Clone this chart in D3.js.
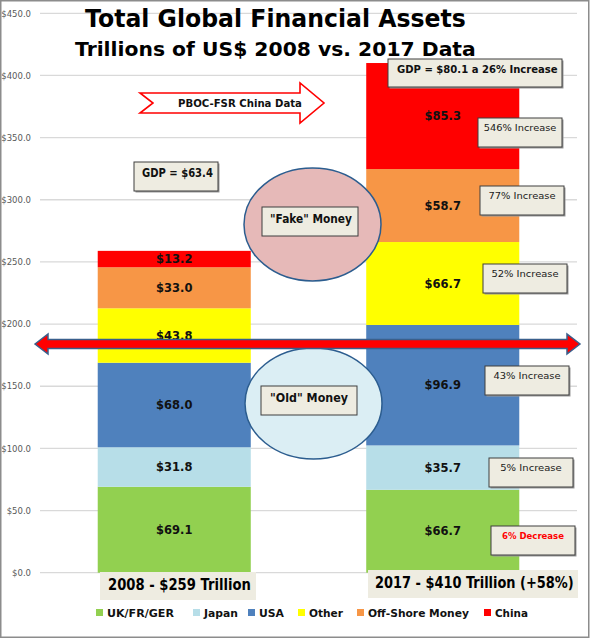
<!DOCTYPE html>
<html>
<head>
<meta charset="utf-8">
<script src="https://cdn.jsdelivr.net/npm/d3@7"></script>
<style>
  html, body { margin: 0; padding: 0; background: #fff; }
  svg { display: block; }
</style>
</head>
<body>
<div id="chart"></div>
<script>
// ---------------- DATA ----------------
const categories = ["2008", "2017"];
const categoryLabels = ["2008 - $259 Trillion", "2017 - $410 Trillion (+58%)"];
const seriesNames = ["UK/FR/GER", "Japan", "USA", "Other", "Off-Shore Money", "China"];
const values2008 = [69.1, 31.8, 68.0, 43.8, 33.0, 13.2];
const values2017 = [66.7, 35.7, 96.9, 66.7, 58.7, 85.3];
const seriesColors = ["#92D050", "#B7DEE8", "#4F81BD", "#FFFF00", "#F79646", "#FF0000"];
const yTicks = [0, 50, 100, 150, 200, 250, 300, 350, 400, 450];
const changeNotes = ["6% Decrease", "5% Increase", "43% Increase", "52% Increase", "77% Increase", "546% Increase"];
const titleLines = ["Total Global Financial Assets", "Trillions of US$ 2008 vs. 2017 Data"];
const gdpNotes = ["GDP = $63.4", "GDP = $80.1 a 26% Increase"];

// ---------------- SETUP ----------------
const W = 591, H = 640;
const FONT = "'DejaVu Sans', Verdana, sans-serif";
const svg = d3.select("#chart").append("svg").attr("width", W).attr("height", H);

const plot = { left: 40, right: 577, top: 13.3, bottom: 572.7 };
const x = d3.scaleBand().domain(categories).range([plot.left, plot.right])
  .paddingInner(0.43).paddingOuter(0.215);
const y = d3.scaleLinear().domain([0, 450]).range([plot.bottom, plot.top]);

// frame
svg.append("rect").attr("x", 0.75).attr("y", 0.75).attr("width", 588).attr("height", 636.5)
  .attr("fill", "#fff").attr("stroke", "#8c8c8c").attr("stroke-width", 1.5);

// gridlines
svg.append("g").selectAll("line").data(yTicks).join("line")
  .attr("x1", plot.left).attr("x2", plot.right)
  .attr("y1", d => y(d)).attr("y2", d => y(d))
  .attr("stroke", "#d9d9d9").attr("stroke-width", 1.3);

// y axis labels
const yAxis = d3.axisLeft(y).tickValues(yTicks).tickSize(0).tickPadding(0)
  .tickFormat(d => "$" + d3.format(".1f")(d));
const gy = svg.append("g").attr("transform", `translate(31,0)`).call(yAxis);
gy.select(".domain").remove();
gy.selectAll("text").attr("font-family", FONT).attr("font-size", 8.5).attr("fill", "#595959");

// ---------------- BARS ----------------
const rows = categories.map((c, i) => {
  const obj = { cat: c };
  const vals = i === 0 ? values2008 : values2017;
  seriesNames.forEach((s, j) => obj[s] = vals[j]);
  return obj;
});
const stacked = d3.stack().keys(seriesNames)(rows);

const gBars = svg.append("g");
stacked.forEach((layer, j) => {
  gBars.selectAll(null).data(layer).join("rect")
    .attr("x", d => x(d.data.cat))
    .attr("width", x.bandwidth())
    .attr("y", d => y(d[1]))
    .attr("height", d => y(d[0]) - y(d[1]))
    .attr("fill", seriesColors[j]);
});

// bar value labels
stacked.forEach((layer, j) => {
  svg.append("g").selectAll("text").data(layer).join("text")
    .attr("x", d => x(d.data.cat) + x.bandwidth() / 2)
    .attr("y", d => (y(d[0]) + y(d[1])) / 2)
    .attr("dy", "0.36em")
    .attr("text-anchor", "middle")
    .attr("font-family", FONT).attr("font-weight", "bold").attr("font-size", 11.5)
    .attr("fill", "#111")
    .text(d => "$" + d3.format(".1f")(d[1] - d[0]));
});

// ---------------- HELPERS ----------------
function box(x0, y0, w, h, opts = {}) {
  const g = svg.append("g");
  if (opts.shadow !== false) {
    g.append("rect").attr("x", x0 + 1.5).attr("y", y0 + 1.5).attr("width", w).attr("height", h)
      .attr("fill", "#9a9a9a");
  }
  g.append("rect").attr("x", x0).attr("y", y0).attr("width", w).attr("height", h)
    .attr("fill", "#EEECE1")
    .attr("stroke", opts.stroke === undefined ? "#3f3f3f" : opts.stroke)
    .attr("stroke-width", 1);
  return g;
}
// text; if o.len is given, the text is horizontally scaled to that visual width
function label(g, tx, ty, str, o = {}) {
  const t = g.append("text").attr("x", 0).attr("y", 0)
    .attr("font-family", FONT)
    .attr("font-weight", o.weight || "bold")
    .attr("font-size", o.size || 11)
    .attr("fill", o.fill || "#111")
    .attr("text-anchor", o.anchor || "start")
    .text(str);
  let sx = 1;
  if (o.len) {
    const natural = t.node().getComputedTextLength();
    if (natural > 0) sx = o.len / natural;
  }
  t.attr("transform", `translate(${tx},${ty}) scale(${sx},1)`);
  return t;
}

// ---------------- TITLE ----------------
const gT = svg.append("g");
label(gT, 85, 27, titleLines[0], { size: 24, len: 381, fill: "#000" });
label(gT, 75, 56, titleLines[1], { size: 20, len: 401, fill: "#000" });

// ---------------- PBOC ARROW ----------------
svg.append("path")
  .attr("d", "M140,93 L300,93 L300,83 L324,103 L300,123 L300,113 L140,113 L153,103 Z")
  .attr("fill", "#fff").attr("stroke", "#FF0000").attr("stroke-width", 1.6);
label(svg, 178, 107, "PBOC-FSR China Data", { size: 11, len: 124 });

// ---------------- GDP BOXES ----------------
label(box(134, 162, 84, 29), 142, 177, gdpNotes[0], { size: 11.5, len: 71 });
label(box(388, 59, 174, 28), 397, 73, gdpNotes[1], { size: 10.5, len: 161 });

// ---------------- CHANGE NOTES ----------------
const noteBoxes = [
  [491, 526], [489, 458], [485, 366], [483, 264], [480, 186], [478, 118]
];
changeNotes.forEach((n, j) => {
  const [bx, by] = noteBoxes[j];
  const g = box(bx, by, 84, 29);
  const isDec = n.indexOf("Decrease") >= 0;
  label(g, bx + 42, by + 13, n, {
    size: 9.5, weight: isDec ? "bold" : "normal", anchor: "middle",
    fill: isDec ? "#FF0000" : "#1a1a1a",
    len: isDec ? 62 : (n.length * 5.6)
  });
});

// ---------------- CATEGORY LABELS ----------------
const catBox = [[100, 572, 156, 28], [368, 570, 210, 28]];
const catText = [[108, 590, 143], [375, 588, 199]];
categories.forEach((c, i) => {
  const [bx, by, bw, bh] = catBox[i];
  const g = box(bx, by, bw, bh, { shadow: false, stroke: "none" });
  label(g, catText[i][0], catText[i][1], categoryLabels[i], { size: 15, len: catText[i][2], fill: "#000" });
});

// ---------------- ELLIPSES ----------------
svg.append("ellipse").attr("cx", 312.5).attr("cy", 224.5).attr("rx", 68.5).attr("ry", 56.5)
  .attr("fill", "#E6B9B8").attr("stroke", "#2C5D8F").attr("stroke-width", 1.5);
label(box(262, 207, 96, 29, { shadow: false }), 270, 223, "\"Fake\" Money", { size: 11.5, len: 82 });

svg.append("ellipse").attr("cx", 313.5).attr("cy", 403.5).attr("rx", 68.5).attr("ry", 55.5)
  .attr("fill", "#DBEEF4").attr("stroke", "#2C5D8F").attr("stroke-width", 1.5);
label(box(261, 386, 96, 29, { shadow: false }), 270, 402, "\"Old\" Money", { size: 11.5, len: 78 });

// ---------------- DOUBLE ARROW ----------------
svg.append("path")
  .attr("d", "M35,344 L48,334 L48,339.5 L567,339.5 L567,334 L580,344 L567,354 L567,348.5 L48,348.5 L48,354 Z")
  .attr("fill", "#FF0000").attr("stroke", "#3A5F8C").attr("stroke-width", 1.5);

// ---------------- LEGEND ----------------
const legendX = [96, 193, 248, 298, 357, 484];
const legendLen = [67, 34, 25, 34, 101, 33];
const gL = svg.append("g");
seriesNames.forEach((s, j) => {
  gL.append("rect").attr("x", legendX[j]).attr("y", 609).attr("width", 7).attr("height", 7)
    .attr("fill", seriesColors[j]);
  label(gL, legendX[j] + 11, 617, s, { size: 10.5, len: legendLen[j], fill: "#111" });
});
</script>
</body>
</html>
